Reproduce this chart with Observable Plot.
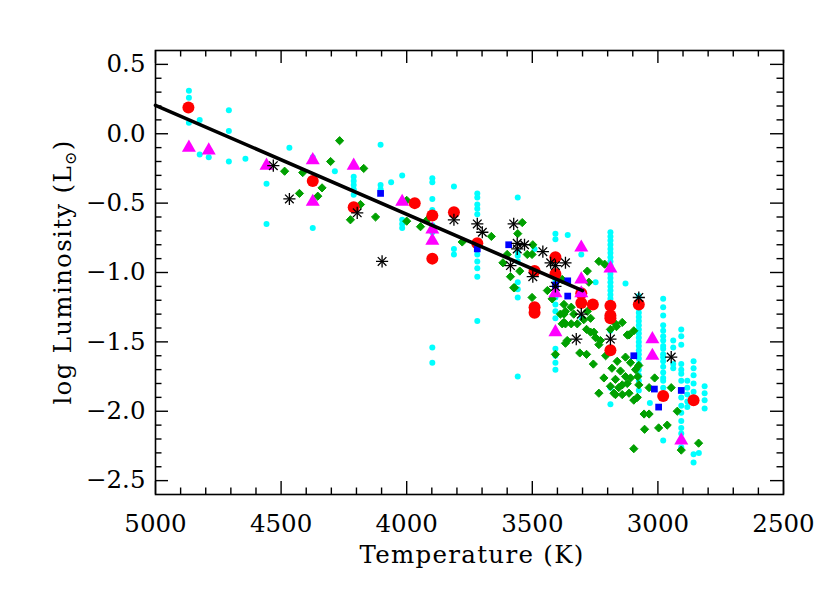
<!DOCTYPE html>
<html>
<head>
<meta charset="utf-8">
<script src="https://cdn.jsdelivr.net/npm/d3@7"></script>
<script src="https://cdn.jsdelivr.net/npm/@observablehq/plot@0.6"></script>
<style>
  html, body { margin: 0; padding: 0; background: white; }
</style>
</head>
<body>
<div id="chart"></div>
<script>
// ---- data: [Temperature (K), log Luminosity] ----
const cyanStars = [
  [4867,0.31],[4867,0.26],[4867,0.08],[4824,0.10],[4824,-0.15],[4788,-0.17],[4708,0.17],[4708,0.02],[4708,-0.20],
  [4642,-0.18],[4558,-0.36],[4558,-0.65],[4467,-0.10],[4374,-0.17],[4374,-0.68],[4286,-0.27],
  [4211,-0.31],[4211,-0.34],[4211,-0.37],[4211,-0.40],[4211,-0.44],[4104,-0.08],[4104,-0.37],[4104,-0.40],
  [4062,-0.35],[4018,-0.30],[4018,-0.62],[4018,-0.65],[4018,-0.68],
  [3898,-0.32],[3898,-0.35],[3898,-0.47],[3898,-0.55],[3898,-0.66],[3898,-0.71],[3898,-1.54],[3898,-1.65],
  [3812,-0.38],[3812,-0.83],[3812,-0.87],
  [3719,-0.43],[3719,-0.46],[3719,-0.51],[3719,-0.54],[3719,-0.58],[3719,-0.87],[3719,-0.92],[3719,-0.97],[3719,-1.03],[3719,-1.35],
  [3558,-0.46],[3558,-0.85],[3558,-0.88],[3558,-0.92],[3558,-1.07],[3558,-1.12],[3558,-1.18],[3558,-1.75],
  [3491,-0.83],
  [3408,-0.72],[3408,-0.76],[3408,-1.05],[3408,-1.10],[3408,-1.15],[3408,-1.18],[3408,-1.23],[3408,-1.28],[3408,-1.33],
  [3408,-1.55],[3408,-1.60],[3408,-1.65],[3408,-1.70],
  [3359,-0.73],[3305,-0.87],[3304,-1.33],[3248,-1.07],
  [3189,-0.71],[3189,-0.74],[3189,-0.77],[3189,-0.80],[3189,-0.83],[3189,-0.86],[3189,-0.89],[3189,-0.92],[3189,-0.95],
  [3189,-0.98],[3189,-1.01],[3189,-1.04],[3189,-1.07],[3189,-1.10],[3189,-1.13],[3189,-1.16],[3189,-1.19],[3189,-1.22],
  [3189,-1.25],[3189,-1.42],[3189,-1.83],[3189,-1.95],
  [3129,-1.08],
  [3076,-1.17],[3076,-1.20],[3076,-1.23],[3076,-1.26],[3076,-1.29],[3076,-1.32],[3076,-1.35],[3076,-1.38],[3076,-1.41],
  [3076,-1.44],[3076,-1.47],[3076,-1.50],[3076,-1.53],[3076,-1.56],[3076,-1.59],[3076,-1.62],[3076,-1.66],[3076,-1.70],
  [3076,-1.74],[3076,-1.78],[3076,-1.85],
  [3032,-1.94],
  [2979,-1.19],[2979,-1.25],[2979,-1.31],[2979,-1.38],[2979,-1.42],[2979,-1.46],[2979,-1.49],[2979,-1.53],[2979,-1.55],
  [2979,-1.59],[2979,-1.61],[2979,-1.64],[2979,-1.68],[2979,-1.72],[2979,-1.76],[2979,-1.78],[2979,-1.83],[2979,-2.21],
  [2939,-1.49],[2939,-1.54],[2939,-1.66],[2939,-1.69],
  [2907,-1.41],[2907,-1.46],[2907,-1.52],[2907,-1.66],[2907,-1.70],[2907,-1.73],[2907,-1.78],[2907,-1.85],[2907,-1.90],
  [2907,-1.96],[2907,-2.01],[2907,-2.07],[2907,-2.12],[2907,-2.16],[2907,-2.26],
  [2883,-1.78],[2883,-1.83],[2883,-1.88],[2883,-1.93],[2883,-1.97],
  [2858,-1.64],[2858,-1.69],[2858,-1.74],[2858,-1.80],[2858,-1.86],[2858,-1.92],[2858,-2.31],[2858,-2.37],
  [2837,-2.30],
  [2814,-1.82],[2814,-1.87],[2814,-1.92],[2814,-1.98]
];

const greenStars = [
  [4267,-0.05],[4303,-0.20],[4171,-0.25],[4486,-0.27],[4414,-0.28],[4337,-0.39],[4427,-0.43],[4354,-0.45],
  [4184,-0.51],[4224,-0.62],[4124,-0.60],[4000,-0.48],[4000,-0.63],[3945,-0.67],[3918,-0.62],[3779,-0.78],
  [3663,-0.74],[3540,-0.64],[3558,-0.72],[3600,-0.87],[3617,-0.93],[3520,-0.87],[3587,-1.03],[3571,-1.11],
  [3501,-1.18],[3550,-0.99],[3440,-1.13],[3421,-1.19],[3374,-1.30],[3368,-1.37],[3281,-0.99],[3275,-1.07],
  [3235,-0.92],[3212,-0.94],[3321,-1.37],[3268,-1.33],[3255,-1.43],[3229,-1.49],[3169,-1.37],[3122,-1.45],
  [3142,-1.36],[3361,-1.49],[3388,-1.30],[3501,-0.87],[3368,-1.28],[3374,-1.36],[3335,-1.30],[3295,-1.34],
  [3284,-1.41],[3248,-1.47],[3235,-1.52],[3208,-1.60],[3189,-1.41],[3165,-1.39],[3115,-1.45],[3096,-1.42],
  [3183,-1.69],[3162,-1.64],[3149,-1.71],[3129,-1.75],[3109,-1.76],[3076,-1.67],[3215,-1.76],[3235,-1.87],
  [3175,-1.87],[3142,-1.88],[3115,-1.87],[3142,-1.81],[3076,-1.81],[3096,-1.92],[3082,-1.90],[3055,-2.02],
  [3035,-2.02],[3053,-2.13],[2997,-2.12],[2963,-2.10],[2923,-2.00],[2947,-1.83],[3035,-1.83],[3013,-1.76],
  [3096,-2.27],[2907,-2.28],[2838,-2.23],[3408,-1.59],[3311,-1.58],[3284,-1.59],[3257,-1.66],[3080,-1.75],
  [3368,-1.51],[3574,-1.11],[3498,-0.80],[3381,-1.05],[3374,-1.23],[3345,-1.25],[3281,-1.28],[3345,-1.37],
  [3268,-1.43],[3381,-1.37],[3129,-1.61],[3109,-1.65],[3089,-1.70],[3169,-1.77],[3156,-1.83],[3189,-1.82],
  [3169,-1.88],[3122,-1.80]
];

const redStars = [
  [4869,0.19],[4374,-0.34],[4211,-0.53],[3968,-0.50],[3898,-0.59],[3898,-0.90],[3812,-0.565],[3719,-0.79],
  [3408,-0.89],[3408,-1.01],[3491,-0.99],[3491,-1.25],[3491,-1.29],[3305,-1.15],[3305,-1.22],[3259,-1.23],
  [3189,-1.24],[3189,-1.31],[3189,-1.33],[3189,-1.56],[3076,-1.23],[2979,-1.89],[2858,-1.92]
];

const magentaStars = [
  [4867,-0.10],[4788,-0.12],[4558,-0.23],[4374,-0.19],[4374,-0.49],[4211,-0.23],[4018,-0.49],[3898,-0.69],
  [3898,-0.77],[3305,-0.82],[3189,-0.97],[3408,-1.15],[3305,-1.15],[3305,-1.05],[3408,-1.43],[3022,-1.48],
  [3022,-1.60],[2907,-2.21]
];

const blueStars = [
  [4104,-0.43],[3719,-0.83],[3594,-0.80],[3408,-1.09],[3359,-1.06],[3359,-1.17],[3096,-1.60],[3014,-1.84],
  [2997,-1.97],[2907,-1.85]
];

const blackStars = [
  [4531,-0.23],[4467,-0.47],[4197,-0.57],[4098,-0.92],[3812,-0.62],[3719,-0.65],[3699,-0.71],[3574,-0.65],
  [3560,-0.79],[3531,-0.80],[3560,-0.83],[3587,-0.95],[3458,-0.85],[3427,-0.93],[3368,-0.93],[3408,-0.95],
  [3498,-1.03],[3408,-1.10],[3305,-1.30],[3325,-1.48],[3189,-1.48],[3076,-1.18],[2947,-1.61]
];

const fitLine = [[5000,0.205],[3300,-1.13]];

const xMajorTicks = [5000,4500,4000,3500,3000,2500];
const xMinorTicks = [4900,4800,4700,4600,4400,4300,4200,4100,3900,3800,3700,3600,3400,3300,3200,3100,2900,2800,2700,2600];
const yMajorTicks = [0.5,0.0,-0.5,-1.0,-1.5,-2.0,-2.5];
const yMinorTicks = [0.4,0.3,0.2,0.1,-0.1,-0.2,-0.3,-0.4,-0.6,-0.7,-0.8,-0.9,-1.1,-1.2,-1.3,-1.4,-1.6,-1.7,-1.8,-1.9,-2.1,-2.2,-2.3,-2.4];

const xTitle = "Temperature (K)";
const yTitleMain = "log Luminosity (L";
const yTitleSub = "⊙";
const yTitleEnd = ")";

// ---- layout ----
const W = 830, H = 593;
const mL = 155, mR = 47, mT = 50, mB = 99;
const pH = H - mT - mB, pW = W - mL - mR;
const font = "'DejaVu Serif', serif";
const fs = 24.5;
const major = 13, minor = 6.5;
const tk = {stroke: "black", strokeWidth: 1.4};
const X = d => d[0], Y = d => d[1];

const chart = Plot.plot({
  width: W, height: H,
  marginLeft: mL, marginRight: mR, marginTop: mT, marginBottom: mB,
  style: {fontFamily: font, fontSize: fs + "px", background: "white", color: "black"},
  x: {domain: [5000, 2500]},
  y: {domain: [-2.6, 0.6]},
  marks: [
    Plot.dot(cyanStars, {x: X, y: Y, r: 3, fill: "#00ffff"}),
    Plot.dot(greenStars, {x: X, y: Y, symbol: "diamond2", r: 3.7, fill: "#00a000", stroke: "#00a000", strokeWidth: 1}),
    Plot.dot(redStars, {x: X, y: Y, r: 6, fill: "#ff0000"}),
    Plot.dot(magentaStars, {x: X, y: Y, symbol: "triangle", r: 5.2, fill: "#ff00ff"}),
    Plot.dot(blueStars, {x: X, y: Y, symbol: "square", r: 3.8, fill: "#0000ff"}),
    Plot.dot(blackStars, {x: X, y: Y, symbol: "plus", r: 4, stroke: "black", strokeWidth: 1.3}),
    Plot.dot(blackStars, {x: X, y: Y, symbol: "times", r: 4, stroke: "black", strokeWidth: 1.3}),
    Plot.line(fitLine, {x: X, y: Y, stroke: "black", strokeWidth: 3.6}),
    Plot.frame({stroke: "black", strokeWidth: 1.6}),
    // inward ticks on all four sides
    Plot.tickX(xMajorTicks, {x: d => d, insetTop: pH - major, ...tk}),
    Plot.tickX(xMajorTicks, {x: d => d, insetBottom: pH - major, ...tk}),
    Plot.tickX(xMinorTicks, {x: d => d, insetTop: pH - minor, ...tk}),
    Plot.tickX(xMinorTicks, {x: d => d, insetBottom: pH - minor, ...tk}),
    Plot.tickY(yMajorTicks, {y: d => d, insetRight: pW - major, ...tk}),
    Plot.tickY(yMajorTicks, {y: d => d, insetLeft: pW - major, ...tk}),
    Plot.tickY(yMinorTicks, {y: d => d, insetRight: pW - minor, ...tk}),
    Plot.tickY(yMinorTicks, {y: d => d, insetLeft: pW - minor, ...tk}),
    Plot.axisX(xMajorTicks, {anchor: "bottom", tickSize: 0, tickPadding: 20, label: null,
      tickFormat: d => String(d), fontSize: fs, fontFamily: font}),
    Plot.axisY(yMajorTicks, {anchor: "left", tickSize: 0, tickPadding: 10, label: null,
      tickFormat: d3.format(".1f"), fontSize: fs, fontFamily: font})
  ]
});

const svg = d3.select(chart);
svg.append("text")
  .attr("x", 472).attr("y", 563)
  .attr("text-anchor", "middle")
  .attr("font-family", font).attr("font-size", fs)
  .attr("letter-spacing", "1.3px")
  .attr("fill", "black")
  .text(xTitle);

const yt = svg.append("text")
  .attr("transform", "translate(71,272) rotate(-90)")
  .attr("text-anchor", "middle")
  .attr("font-family", font).attr("font-size", fs)
  .attr("letter-spacing", "1.3px")
  .attr("fill", "black");
yt.append("tspan").text(yTitleMain);
yt.append("tspan").attr("font-size", 16).attr("dy", 5).text(yTitleSub);
yt.append("tspan").attr("dy", -5).text(yTitleEnd);

document.getElementById("chart").appendChild(chart);
</script>
</body>
</html>
